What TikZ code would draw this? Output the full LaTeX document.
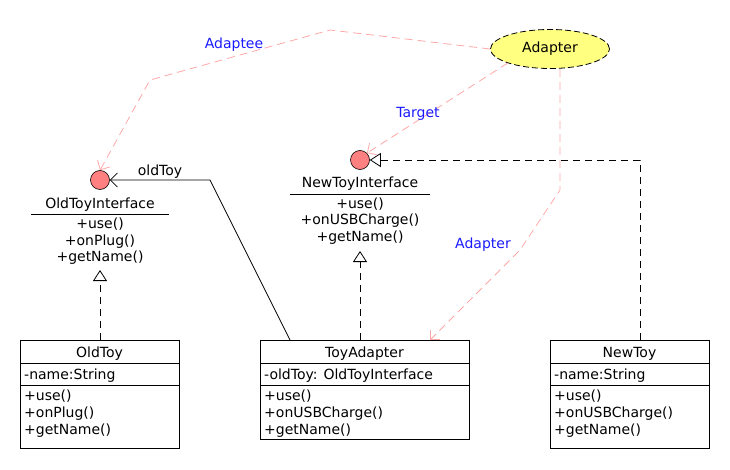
\documentclass[tikz,border=0pt]{standalone}
\usepackage{fontspec}
\setmainfont{DejaVu Sans}
\usetikzlibrary{arrows.meta,shapes.geometric}
\definecolor{ifacefill}{HTML}{FF8080}
\definecolor{notefill}{HTML}{FFFF80}
\definecolor{deppink}{HTML}{FFA8A8}
\definecolor{labelblue}{HTML}{1A1AFF}
\tikzset{
  classbox/.style={draw=black, line width=0.8pt, fill=white, anchor=north west, inner sep=0pt},
  iface/.style={circle, draw=black, line width=0.6pt, fill=ifacefill, minimum size=19pt, inner sep=0pt},
  ifacetxt/.style={font=\fontsize{14}{16}\selectfont, inner sep=0pt, anchor=base},
  boxtitle/.style={font=\fontsize{14}{16}\selectfont, inner sep=0pt, anchor=base},
  boxtxt/.style={font=\fontsize{14}{16}\selectfont, inner sep=0pt, anchor=base west},
  sep/.style={line width=0.8pt},
  realize/.style={draw=black, line width=0.8pt, dash pattern=on 7pt off 5pt,
    -{Triangle[open, length=11pt, width=14pt, fill=white]}},
  assoc/.style={draw=black, line width=0.8pt, -{Straight Barb[length=7pt, width=14pt, line width=0.8pt]}},
  dep/.style={draw=deppink, line width=0.8pt, dash pattern=on 8pt off 5pt,
    -{Straight Barb[length=7pt, width=14pt, line width=0.8pt]}},
  deplabel/.style={text=labelblue, font=\fontsize{14}{16}\selectfont, inner sep=0pt, anchor=base},
}
\begin{document}
\begin{tikzpicture}[x=1pt, y=-1pt]
\useasboundingbox (0,0) rectangle (730,470);

% ---------- Adapter collaboration ----------
\node[ellipse, draw=black, line width=0.8pt, dash pattern=on 6pt off 3pt, fill=notefill,
      minimum width=119pt, minimum height=39pt, inner sep=0pt,
      font=\fontsize{14}{16}\selectfont] (adapter) at (550,49) {Adapter};

% ---------- interfaces ----------
\node[iface] (oldif) at (100,180) {};
\node[ifacetxt] (oldifname) at (100,209) {OldToyInterface};
\draw[sep] (31,214) -- (169,214);
\node[ifacetxt] (oldif1) at (100,229) {+use()};
\node[ifacetxt] (oldif2) at (100,245) {+onPlug()};
\node[ifacetxt] (oldif3) at (100,261) {+getName()};

\node[iface] (newif) at (360,160) {};
\node[ifacetxt] (newifname) at (360,188) {NewToyInterface};
\draw[sep] (290,194) -- (430,194);
\node[ifacetxt] (newif1) at (360,209) {+use()};
\node[ifacetxt] (newif2) at (360,225) {+onUSBCharge()};
\node[ifacetxt] (newif3) at (360,241) {+getName()};

% ---------- classes ----------
% OldToy
\node[classbox, minimum width=159pt, minimum height=108pt] (oldtoy) at (20,340) {};
\node[boxtitle] (oldtoyname) at (99.5,357) {OldToy};
\draw[sep] (20,363) -- (179,363);
\node[boxtxt] (oldtoyattr) at (24,379) {-name:String};
\draw[sep] (20,385) -- (179,385);
\node[boxtxt] (oldtoym1) at (24,400) {+use()};
\node[boxtxt] (oldtoym2) at (24,417) {+onPlug()};
\node[boxtxt] (oldtoym3) at (24,434) {+getName()};

% ToyAdapter
\node[classbox, minimum width=209pt, minimum height=99pt] (toyadapter) at (260,340) {};
\node[boxtitle] (toyadname) at (364.5,357) {ToyAdapter};
\draw[sep] (260,363) -- (469,363);
\node[boxtxt] (toyadattr) at (264,379) {-oldToy: OldToyInterface};
\draw[sep] (260,385) -- (469,385);
\node[boxtxt] (toyadm1) at (264,400) {+use()};
\node[boxtxt] (toyadm2) at (264,417) {+onUSBCharge()};
\node[boxtxt] (toyadm3) at (264,434) {+getName()};

% NewToy
\node[classbox, minimum width=159pt, minimum height=108pt] (newtoy) at (550,340) {};
\node[boxtitle] (newtoyname) at (629.5,357) {NewToy};
\draw[sep] (550,363) -- (709,363);
\node[boxtxt] (newtoyattr) at (554,379) {-name:String};
\draw[sep] (550,385) -- (709,385);
\node[boxtxt] (newtoym1) at (554,400) {+use()};
\node[boxtxt] (newtoym2) at (554,417) {+onUSBCharge()};
\node[boxtxt] (newtoym3) at (554,434) {+getName()};

% ---------- realizations ----------
\coordinate (oldifbase) at (100,270);
\coordinate (newifbase) at (360,251);
\draw[realize] (oldtoy.north -| oldifbase) -- (oldifbase);
\draw[realize] (toyadapter.north -| newifbase) -- (newifbase);
\draw[realize] (640,340) -- (640,160) -- (newif.east);

% ---------- association ----------
\draw[assoc] (290,340) -- (210,180) -- (oldif.east);
\node[ifacetxt] (oldtoylbl) at (160,176) {oldToy};

% ---------- role dependencies ----------
\draw[dep] (adapter.west) -- (330,30) -- (150,80) -- (oldif.north);
\node[deplabel] (adapteelbl) at (234,49) {Adaptee};
\draw[dep] (adapter.south west) -- (newif.north east);
\node[deplabel] (targetlbl) at (418,118) {Target};
\draw[dep] (560,69) -- (560,190) -- (520,250) -- (430,340);
\node[deplabel] (adapterlbl) at (483,248) {Adapter};
\end{tikzpicture}
\end{document}
